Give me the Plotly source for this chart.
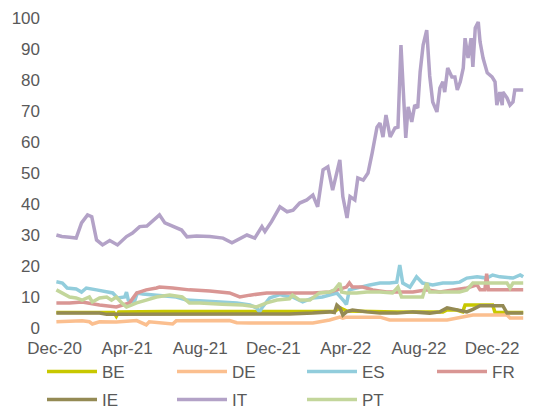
import plotly.graph_objects as go

series_names = ["BE", "DE", "ES", "FR", "IE", "IT", "PT"]
colors = {"BE": "#C8C800", "DE": "#FBBF8F", "ES": "#92CDDC", "FR": "#D99694",
          "IE": "#948A54", "IT": "#B3A2C7", "PT": "#C3D69B"}

be_dates = ["2020-12-04", "2021-03-10", "2021-03-14", "2021-03-18", "2021-06-01", "2021-12-28",
            "2022-03-13", "2022-03-22", "2022-04-02", "2022-06-25", "2022-09-10", "2022-09-17",
            "2022-10-03", "2022-10-13", "2022-10-17", "2022-12-02", "2022-12-06", "2023-01-22"]
be_vals = [5.0, 5.0, 3.8, 5.2, 5.3, 5.3, 5.3, 6.5, 5.5, 5.2, 5.2, 5.8, 5.8, 5.2, 7.4, 7.4, 5.0, 5.0]

de_dates = ["2020-12-04", "2021-01-16", "2021-01-28", "2021-02-02", "2021-02-14", "2021-03-14",
            "2021-04-17", "2021-05-03", "2021-05-08", "2021-06-11", "2021-06-16", "2021-06-22",
            "2021-07-31", "2021-09-19", "2021-10-01", "2021-10-23", "2021-12-28", "2022-02-05",
            "2022-03-05", "2022-03-22", "2022-03-27", "2022-04-02", "2022-05-28", "2022-06-13",
            "2022-09-17", "2022-10-08", "2022-10-30", "2022-12-26", "2022-12-31", "2023-01-22"]
de_vals = [2.0, 2.3, 2.0, 1.3, 2.0, 1.9, 2.4, 1.0, 2.0, 1.5, 1.3, 2.3, 2.3, 2.4, 1.7, 1.6, 1.6, 1.6,
           2.6, 3.5, 3.2, 3.5, 3.5, 2.6, 2.6, 3.5, 4.2, 4.2, 3.2, 3.2]

es_dates = ["2020-12-04", "2020-12-14", "2020-12-22", "2021-01-06", "2021-01-15", "2021-01-23",
            "2021-02-09", "2021-02-26", "2021-03-08", "2021-03-16", "2021-03-28", "2021-03-31",
            "2021-04-03", "2021-04-13", "2021-04-18", "2021-04-27", "2021-05-20", "2021-06-22",
            "2021-07-09", "2021-07-31", "2021-08-28", "2021-10-01", "2021-10-23", "2021-11-03",
            "2021-11-08", "2021-11-13", "2021-11-25", "2021-12-12", "2021-12-28", "2022-01-02",
            "2022-01-19", "2022-02-05", "2022-02-21", "2022-03-17", "2022-03-30", "2022-04-02",
            "2022-04-07", "2022-04-24", "2022-05-11", "2022-05-28", "2022-06-13", "2022-06-25",
            "2022-06-30", "2022-07-05", "2022-07-17", "2022-07-28", "2022-08-07", "2022-08-24",
            "2022-09-10", "2022-09-27", "2022-10-08", "2022-10-20", "2022-11-06", "2022-11-22",
            "2022-12-02", "2022-12-14", "2023-01-05", "2023-01-17", "2023-01-22"]
es_vals = [14.9, 14.5, 12.9, 12.6, 11.6, 12.9, 12.3, 11.6, 11.3, 9.7, 10.0, 11.6, 9.0, 8.4, 11.3,
           11.0, 10.6, 10.0, 9.0, 8.7, 8.4, 8.1, 7.4, 6.5, 5.2, 6.8, 9.7, 10.8, 10.0, 10.0, 8.4,
           9.7, 10.0, 11.3, 8.4, 7.6, 12.3, 13.2, 13.9, 14.5, 14.5, 14.8, 20.3, 14.5, 13.2, 16.5,
           14.5, 13.9, 14.5, 14.5, 14.8, 16.1, 16.5, 16.1, 17.1, 16.5, 16.1, 17.1, 16.5]

fr_dates = ["2020-12-04", "2020-12-26", "2021-01-16", "2021-01-23", "2021-02-14", "2021-03-14",
            "2021-04-05", "2021-04-17", "2021-05-03", "2021-05-20", "2021-05-25", "2021-06-16",
            "2021-07-14", "2021-08-17", "2021-09-19", "2021-10-06", "2021-10-23", "2021-11-20",
            "2021-12-28", "2022-02-05", "2022-03-05", "2022-04-02", "2022-04-07", "2022-04-12",
            "2022-04-29", "2022-05-16", "2022-06-08", "2022-07-22", "2022-08-14", "2022-09-05",
            "2022-09-27", "2022-10-20", "2022-11-06", "2022-11-11", "2022-11-19", "2022-11-22",
            "2022-11-25", "2023-01-22"]
fr_vals = [8.1, 8.1, 8.4, 8.1, 7.4, 6.8, 8.1, 11.3, 12.3, 12.9, 13.2, 12.9, 12.3, 11.9, 11.3, 10.0,
           10.6, 11.3, 11.3, 11.3, 11.6, 13.2, 14.5, 13.2, 13.2, 12.3, 11.6, 11.6, 12.3, 11.6,
           12.3, 12.9, 13.9, 12.3, 12.3, 17.5, 12.3, 12.3]

ie_dates = ["2020-12-04", "2021-02-14", "2021-02-26", "2021-12-28", "2022-02-05", "2022-03-05",
            "2022-03-13", "2022-03-17", "2022-03-22", "2022-03-27", "2022-04-02", "2022-04-12",
            "2022-05-06", "2022-05-28", "2022-06-25", "2022-07-22", "2022-08-19", "2022-09-05",
            "2022-09-17", "2022-10-03", "2022-10-20", "2022-10-30", "2022-11-06", "2022-11-11",
            "2022-12-19", "2022-12-26", "2023-01-22"]
ie_vals = [4.8, 4.8, 4.4, 4.5, 4.8, 5.2, 5.0, 7.4, 6.5, 4.2, 5.2, 5.8, 5.2, 4.8, 4.8, 5.2, 4.8, 5.2,
           6.5, 5.8, 5.2, 6.0, 6.8, 7.2, 7.2, 4.8, 4.8]

it_dates = ["2020-12-04", "2020-12-13", "2020-12-26", "2021-01-06", "2021-01-15", "2021-01-25",
            "2021-02-01", "2021-02-09", "2021-02-19", "2021-03-03", "2021-03-16", "2021-03-31",
            "2021-04-10", "2021-04-22", "2021-05-04", "2021-05-14", "2021-05-25", "2021-06-03",
            "2021-06-16", "2021-07-01", "2021-07-10", "2021-07-26", "2021-08-17", "2021-09-08",
            "2021-09-23", "2021-10-01", "2021-10-18", "2021-10-31", "2021-11-12", "2021-11-17",
            "2021-11-28", "2021-12-12", "2021-12-24", "2022-01-03", "2022-01-14", "2022-01-26",
            "2022-02-05", "2022-02-13", "2022-02-22", "2022-03-02", "2022-03-10", "2022-03-22",
            "2022-03-27", "2022-04-03", "2022-04-08", "2022-04-16", "2022-04-21", "2022-04-30",
            "2022-05-08", "2022-05-15", "2022-05-23", "2022-05-28", "2022-06-02", "2022-06-07",
            "2022-06-14", "2022-06-22", "2022-06-27", "2022-07-02", "2022-07-09", "2022-07-10",
            "2022-07-14", "2022-07-20", "2022-07-25", "2022-07-30", "2022-08-03", "2022-08-08",
            "2022-08-14", "2022-08-19", "2022-08-24", "2022-08-31", "2022-09-05", "2022-09-10",
            "2022-09-13", "2022-09-18", "2022-09-25", "2022-09-30", "2022-10-04", "2022-10-09",
            "2022-10-14", "2022-10-17", "2022-10-22", "2022-10-27", "2022-10-30", "2022-11-03",
            "2022-11-08", "2022-11-11", "2022-11-16", "2022-11-23", "2022-12-01", "2022-12-06",
            "2022-12-09", "2022-12-14", "2022-12-18", "2022-12-19", "2022-12-26", "2022-12-31",
            "2023-01-05", "2023-01-08", "2023-01-22"]
it_vals = [30.0, 29.5, 29.3, 29.0, 33.9, 36.5, 35.9, 28.4, 26.8, 28.2, 26.8, 29.5, 30.6, 32.7, 32.9,
           34.8, 36.5, 33.9, 32.7, 31.6, 29.4, 29.7, 29.5, 29.0, 27.5, 28.4, 30.0, 29.0, 32.7, 31.1,
           34.3, 39.1, 37.5, 38.0, 40.3, 41.3, 42.9, 39.1, 51.0, 52.0, 44.5, 54.2, 42.4, 35.5, 42.4,
           41.3, 48.4, 47.7, 50.0, 56.5, 64.8, 66.1, 61.6, 68.7, 61.6, 64.5, 64.8, 91.3, 66.5, 61.3,
           71.3, 66.5, 71.9, 71.0, 82.6, 91.3, 96.1, 81.3, 72.9, 69.7, 77.4, 79.4, 76.1, 83.9, 81.0,
           81.0, 76.8, 79.4, 83.9, 93.5, 87.1, 93.5, 84.2, 96.8, 98.7, 92.3, 87.1, 82.3, 81.0, 79.4,
           71.9, 76.1, 71.9, 76.1, 74.2, 71.9, 72.9, 76.8, 76.8]

pt_dates = ["2020-12-04", "2020-12-14", "2020-12-26", "2021-01-06", "2021-01-16", "2021-01-28",
            "2021-02-02", "2021-02-14", "2021-02-26", "2021-03-06", "2021-03-14", "2021-03-23",
            "2021-03-31", "2021-04-08", "2021-04-17", "2021-05-03", "2021-05-20", "2021-06-11",
            "2021-07-02", "2021-07-14", "2021-07-31", "2021-09-07", "2021-10-11", "2021-11-03",
            "2021-11-20", "2021-12-07", "2021-12-28", "2022-01-02", "2022-01-14", "2022-01-31",
            "2022-02-16", "2022-03-05", "2022-03-13", "2022-03-22", "2022-03-25", "2022-04-02",
            "2022-04-19", "2022-05-06", "2022-05-28", "2022-06-18", "2022-06-27", "2022-07-03",
            "2022-07-22", "2022-08-07", "2022-08-14", "2022-08-19", "2022-09-17", "2022-10-08",
            "2022-10-20", "2022-10-30", "2022-11-22", "2022-12-26", "2022-12-31", "2023-01-05",
            "2023-01-22"]
pt_vals = [12.3, 11.3, 10.0, 9.7, 9.0, 10.0, 8.4, 9.7, 10.0, 9.0, 10.0, 8.1, 6.8, 7.4, 8.1, 9.0,
           10.0, 10.6, 10.0, 8.1, 8.1, 7.7, 7.4, 6.8, 8.1, 9.0, 9.4, 10.6, 9.0, 9.0, 11.3, 11.6,
           12.3, 14.5, 11.6, 11.3, 11.3, 11.6, 11.6, 11.3, 13.2, 10.0, 10.0, 10.0, 14.5, 11.6,
           11.6, 11.6, 12.3, 14.5, 14.5, 14.5, 12.9, 14.5, 14.5]

data = {"BE": (be_dates, be_vals), "DE": (de_dates, de_vals), "ES": (es_dates, es_vals),
        "FR": (fr_dates, fr_vals), "IE": (ie_dates, ie_vals), "IT": (it_dates, it_vals),
        "PT": (pt_dates, pt_vals)}

font_family = "Liberation Sans, Arial, sans-serif"
grey = "#595959"
fsize = 17

# one legend box per entry: (column, row) in a 4 x 2 grid
legend_grid = {"BE": (0, 0), "DE": (1, 0), "ES": (2, 0), "FR": (3, 0),
               "IE": (0, 1), "IT": (1, 1), "PT": (2, 1)}
col_px = [42, 172, 302, 432]
row_px = [372, 400]

fig = go.Figure()
legend_layout = {}
for i, name in enumerate(series_names):
    d, v = data[name]
    key = "legend" if i == 0 else f"legend{i + 1}"
    fig.add_trace(go.Scatter(x=d, y=v, mode="lines", name=name, legend=key,
                             line=dict(color=colors[name], width=3.5)))
    c, r = legend_grid[name]
    legend_layout[key] = dict(orientation="h", xref="container", yref="container",
                              x=col_px[c] / 535, y=1 - row_px[r] / 416,
                              xanchor="left", yanchor="middle", itemwidth=50,
                              font=dict(family=font_family, size=fsize, color=grey),
                              bgcolor="rgba(0,0,0,0)")

fig.update_layout(
    width=535, height=416,
    margin=dict(l=45, r=10, t=18, b=88, autoexpand=False),
    paper_bgcolor="white", plot_bgcolor="white",
    font=dict(family=font_family, size=fsize, color=grey),
    showlegend=True,
    xaxis=dict(type="date", range=["2020-11-15", "2023-01-25"], automargin=False,
               tick0="2020-12-01", dtick="M4", tickformat="%b-%y",
               showgrid=False, zeroline=False, showline=False, ticks="",
               ticklabelstandoff=8, tickfont=dict(size=fsize, color=grey)),
    yaxis=dict(range=[0, 100], dtick=10, showgrid=False, zeroline=False, automargin=False,
               showline=False, ticks="", ticklabelstandoff=4,
               tickfont=dict(size=fsize, color=grey)),
    **legend_layout,
)

fig.write_html("out.html", config={"displayModeBar": False},
               post_script="document.body.style.margin='0';")
